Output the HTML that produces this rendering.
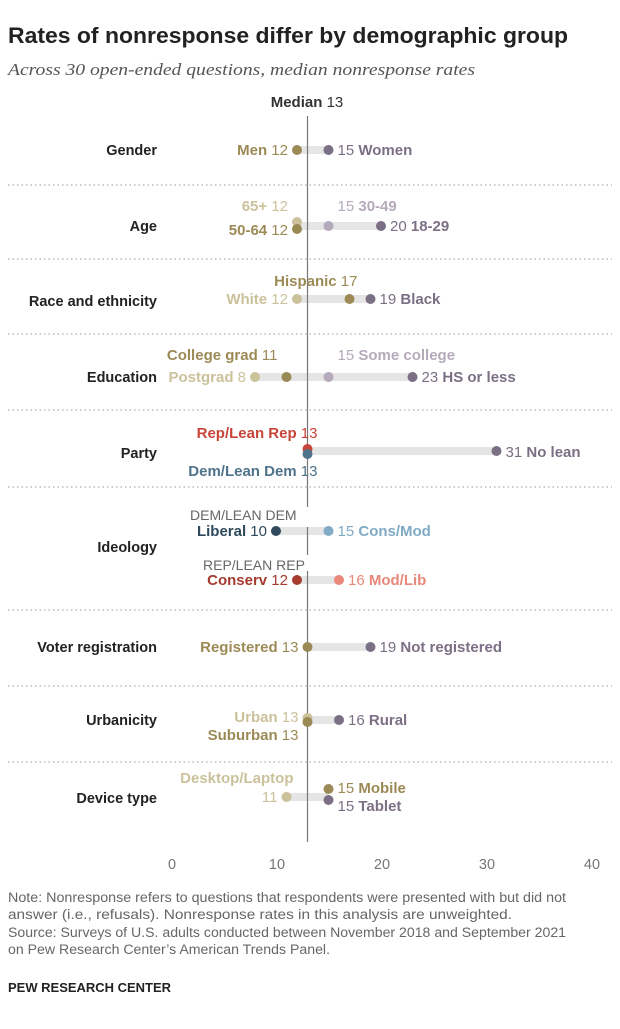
<!DOCTYPE html>
<html><head><meta charset="utf-8"><style>
body{margin:0;background:#fff;}
svg text{font-family:"Liberation Sans",sans-serif;}
</style></head><body>
<svg id="c" width="620" height="1024" viewBox="0 0 620 1024" xmlns="http://www.w3.org/2000/svg">
<text x="8" y="43" font-size="22" font-weight="bold" fill="#222" textLength="560" lengthAdjust="spacingAndGlyphs">Rates of nonresponse differ by demographic group</text>
<text x="8" y="75" font-size="16.5" font-style="italic" fill="#555" textLength="467" lengthAdjust="spacingAndGlyphs" style="font-family:'Liberation Serif',serif">Across 30 open-ended questions, median nonresponse rates</text>
<text x="307" y="107" font-size="15" text-anchor="middle" fill="#333"><tspan font-weight="bold">Median</tspan> 13</text>
<g id="seps"></g><g id="bars"></g><g id="med"></g><g id="dots"></g><g id="labs"></g><g id="ticks"></g>
<text x="8" y="902" font-size="13.5" fill="#666" textLength="558" lengthAdjust="spacingAndGlyphs">Note: Nonresponse refers to questions that respondents were presented with but did not</text>
<text x="8" y="919" font-size="13.5" fill="#666" textLength="504" lengthAdjust="spacingAndGlyphs">answer (i.e., refusals). Nonresponse rates in this analysis are unweighted.</text>
<text x="8" y="937" font-size="13.5" fill="#666" textLength="558" lengthAdjust="spacingAndGlyphs">Source: Surveys of U.S. adults conducted between November 2018 and September 2021</text>
<text x="8" y="954" font-size="13.5" fill="#666" textLength="322" lengthAdjust="spacingAndGlyphs">on Pew Research Center’s American Trends Panel.</text>
<text x="8" y="992" font-size="13" font-weight="bold" fill="#222" textLength="163" lengthAdjust="spacingAndGlyphs">PEW RESEARCH CENTER</text>
</svg>
<script>
const NS="http://www.w3.org/2000/svg";
const median=13;
const categories=["Gender","Age","Race and ethnicity","Education","Party","Ideology","Voter registration","Urbanicity","Device type"];
const groupNames=["Men","Women","65+","50-64","30-49","18-29","White","Hispanic","Black","Postgrad","College grad","Some college","HS or less","Rep/Lean Rep","Dem/Lean Dem","No lean","Liberal","Cons/Mod","Conserv","Mod/Lib","Registered","Not registered","Urban","Suburban","Rural","Desktop/Laptop","Mobile","Tablet"];
const groupValues=[12,15,12,12,15,20,12,17,19,8,11,15,23,13,13,31,10,15,12,16,13,19,13,13,16,11,15,15];
const ticks=[0,10,20,30,40];
function x(v){return 171+10.5*v;}
function mk(tag,attrs,parent){const e=document.createElementNS(NS,tag);for(const k in attrs)e.setAttribute(k,attrs[k]);document.getElementById(parent).appendChild(e);return e;}
const catY=[150,226,301,377,453,547,647,720,798];
categories.forEach((c,i)=>{const t=mk('text',{x:157,y:catY[i]+5,'font-size':14.5,'font-weight':'bold','text-anchor':'end',fill:'#222'},'labs');t.textContent=c;

});
[185,259,334,410,487,610,686,762].forEach(y=>{const l=mk('line',{x1:8,x2:612,y1:y,y2:y,stroke:'#999','stroke-dasharray':'1.5 3'},'seps');

});
const barDefs=[[[0,1],150],[[2,3,4,5],226],[[6,7,8],299],[[9,10,11,12],377],[[13,14,15],451],[[16,17],531],[[18,19],580],[[20,21],647],[[22,23,24],720],[[25,26,27],797]];
barDefs.forEach(([ids,y])=>{const vs=ids.map(i=>groupValues[i]);const a=Math.min(...vs),b=Math.max(...vs);const r=mk('rect',{x:x(a),y:y-4,width:x(b)-x(a),height:8,fill:'#e5e5e5'},'bars');

});
const ml=mk('line',{x1:x(median),x2:x(median),y1:116,y2:842,stroke:'#777','stroke-width':1.2},'med');


[[507,20],[555,16]].forEach(([y,h])=>{const g=mk('rect',{x:x(median)-2,y:y,width:4,height:h,fill:'#fff'},'med');

});
const G='#9c8a56',LG='#cbc19b',P='#7b6f85',LP='#b4aabb',R='#c8453a',B='#4f738a',DB='#2f4a5c',LB='#80aac5',DR='#a63b2f',LR='#e8877a';
const st=[
[150,G,'L',155],[150,P,'R',155],
[222,LG,'L',211],[229,G,'L',235],[226,LP,'R',211],[226,P,'R',231],
[299,LG,'L',304],[299,G,'C',286],[299,P,'R',304],
[377,LG,'L',382],[377,G,'L',360],[377,LP,'R',360],[377,P,'R',382],
[449,R,'L',438],[454,B,'L',476],[451,P,'R',457],
[531,DB,'L',536],[531,LB,'R',536],
[580,DR,'L',585],[580,LR,'R',585],
[647,G,'L',652],[647,P,'R',652],
[718,LG,'L',722],[722,G,'L',740],[720,P,'R',725],
[797,LG,'L',802],[789,G,'R',793],[800,P,'R',811]];
groupValues.forEach((v,i)=>{const [y,col,side,ly]=st[i];
const c=mk('circle',{cx:x(v),cy:y,r:5,fill:col},'dots');


const num=String(v);
let tx,anchor;
if(side==='L'){tx=x(v)-9;anchor='end';}else if(side==='R'){tx=x(v)+9;anchor='start';}else{tx=x(v)+8;anchor='end';}
if(i===13||i===14){tx=x(v)+10;}
const t=mk('text',{x:tx,y:ly,'font-size':15,'text-anchor':anchor,fill:col},'labs');
const name=groupNames[i];
if(side==='R'){t.innerHTML=num+' <tspan font-weight="bold">'+name+'</tspan>';}
else if(i===25){t.textContent=num;}
else{t.innerHTML='<tspan font-weight="bold">'+name+'</tspan> '+num;}

});
[[190,520,'DEM/LEAN DEM'],[203,570,'REP/LEAN REP']].forEach(([tx,ty,s])=>{const t=mk('text',{x:tx,y:ty,'font-size':14,fill:'#666'},'labs');t.textContent=s;

});
const dl=mk('text',{x:x(11)+7,y:783,'font-size':15,'font-weight':'bold','text-anchor':'end',fill:LG},'labs');dl.textContent='Desktop/Laptop';


ticks.forEach(t=>{const e=mk('text',{x:x(t)+1,y:869,'font-size':14.5,'text-anchor':'middle',fill:'#777'},'ticks');e.textContent=t;

});
</script>
</body></html>
